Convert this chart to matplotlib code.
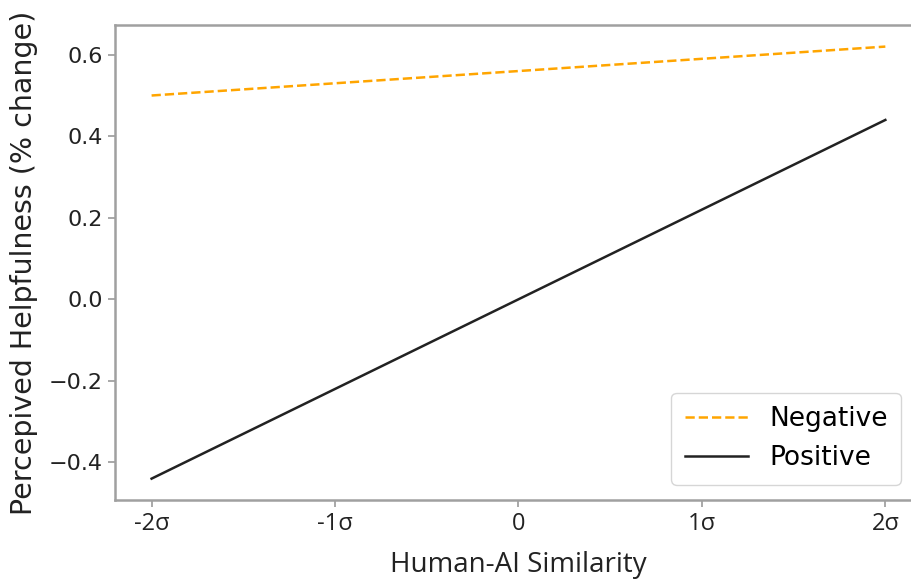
import matplotlib
matplotlib.use("Agg")
import matplotlib.pyplot as plt

# Similarity levels (in standard deviations) and predicted change per condition
similarity = [-2, 2]
tick_labels = ["-2σ", "-1σ", "0", "1σ", "2σ"]
tick_positions = [-2, -1, 0, 1, 2]
negative = [0.50, 0.62]
positive = [-0.44, 0.44]

plt.rcParams["font.family"] = ["DejaVu Sans"]
x_font = "Open Sans"

fig = plt.figure(figsize=(9.12, 5.81), dpi=100)
ax = fig.add_axes([0.126, 0.139, 0.885, 0.818])

ax.plot(similarity, negative, color="#FFA500", linestyle="--", linewidth=1.8, label="Negative")
ax.plot(similarity, positive, color="#222222", linestyle="-", linewidth=1.8, label="Positive")

ax.set_xticks(tick_positions)
ax.set_xticklabels(tick_labels, fontsize=17, family=x_font, color="#222222")
ax.tick_params(axis="y", labelsize=16, colors="#222222")
ax.tick_params(axis="both", color="#999999", length=5, width=1.2)

ax.set_xlabel("Human-AI Similarity", fontsize=20, family=x_font, color="#222222", labelpad=11)
ax.set_ylabel("Percepived Helpfulness (% change)", fontsize=20.5, color="#222222", labelpad=8)

for s in ax.spines.values():
    s.set_color("#a0a0a0")
    s.set_linewidth(1.8)

ax.legend(loc="lower right", fontsize=19, frameon=True, borderpad=0.5,
          handlelength=2.4, bbox_to_anchor=(0.99, 0.005))

fig.savefig("out.png", dpi=100)
